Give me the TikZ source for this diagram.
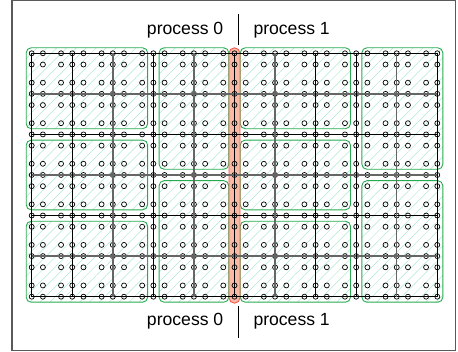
\documentclass[tikz,border=0pt]{standalone}
\usepackage{fontspec}
\setmainfont{Liberation Sans}
\usetikzlibrary{patterns.meta}
\definecolor{boxgreen}{RGB}{40,170,80}
\definecolor{hatchc}{RGB}{175,232,212}
\definecolor{redline}{RGB}{240,90,80}
\definecolor{redfill}{RGB}{250,185,165}
\definecolor{framec}{RGB}{90,90,90}
\begin{document}
\begin{tikzpicture}[x=1pt,y=-1pt,
  pt/.style={circle,draw=black,line width=0.7pt,minimum size=5pt,inner sep=0pt},
  blk/.style={draw=black,line width=0.9pt},
  gry/.style={draw=black!60,line width=1.4pt},
  gbox/.style={draw=boxgreen,line width=0.9pt,rounded corners=5pt,
     pattern={Lines[angle=45,distance=7pt,line width=0.5pt]},pattern color=hatchc},
  rbox/.style={draw=redline,fill=redfill,line width=0.9pt,rounded corners=5.5pt},
  lbl/.style={font=\fontsize{17.6}{20}\selectfont,inner sep=0pt},
  divline/.style={draw=black,line width=0.9pt}]
\useasboundingbox (0,0) rectangle (458,352);
\draw[framec,line width=1.5pt] (12,0.75) rectangle (455.5,350.5);
% grid coordinates
\foreach \e in {0,...,9}{
  \foreach \k/\f in {0/0,1/0.2764,2/0.7236}{
    \pgfmathtruncatemacro\i{3*\e+\k}
    \pgfmathsetmacro\xx{31.7+(\e+\f)*40.56}
    \coordinate (c\i) at (\xx,0);
  }}
\coordinate (c30) at (437.3,0);
\foreach \e in {0,...,5}{
  \foreach \k/\f in {0/0,1/0.2764,2/0.7236}{
    \pgfmathtruncatemacro\j{3*\e+\k}
    \pgfmathsetmacro\yy{53.3+(\e+\f)*40.56}
    \coordinate (r\j) at (0,\yy);
  }}
\coordinate (r18) at (0,296.7);
% boxes
\foreach \a/\b/\c/\d in {0/0/8/5, 0/7/8/11, 0/13/8/18, 10/0/14/8, 10/10/14/18,
                          16/0/23/5, 16/7/23/11, 16/13/23/18, 25/0/30/8, 25/10/30/18}{
  \draw[gbox] ([shift={(-5.5,-5.5)}]c\a |- r\b) rectangle ([shift={(5.5,5.5)}]c\c |- r\d);
}
\draw[rbox] ([shift={(-5.5,-5.5)}]c15 |- r0) rectangle ([shift={(5.5,6.5)}]c15 |- r18);
% points
\foreach \i in {0,...,30}{
  \foreach \j in {0,...,18}{
    \node[pt] (p-\i-\j) at (c\i |- r\j) {};
  }}
% horizontal lines
\foreach \j in {0,6,12,18}{\draw[blk] (p-0-\j.center) -- (p-30-\j.center);}
\foreach \j in {3,9,15}{\draw[gry] (p-0-\j.center) -- (p-30-\j.center);}
% vertical lines
\foreach \i in {0,3,9,15,21,24,30}{\draw[blk] (p-\i-0.center) -- (p-\i-18.center);}
\foreach \i in {6,12,18,27}{\draw[gry] (p-\i-0.center) -- (p-\i-18.center);}
% labels
\node[lbl,anchor=base east] (t0) at (223.5,34.5) {process 0};
\node[lbl,anchor=base west] (t1) at (253.3,34.5) {process 1};
\node[lbl,anchor=base east] (b0) at (223.5,325.5) {process 0};
\node[lbl,anchor=base west] (b1) at (253.3,325.5) {process 1};
\coordinate (dt1) at (238.5,14);
\coordinate (dt2) at (238.5,45);
\coordinate (db1) at (238.5,306);
\coordinate (db2) at (238.5,338);
\draw[divline] (dt1) -- (dt2);
\draw[divline] (db1) -- (db2);
\end{tikzpicture}
\end{document}
